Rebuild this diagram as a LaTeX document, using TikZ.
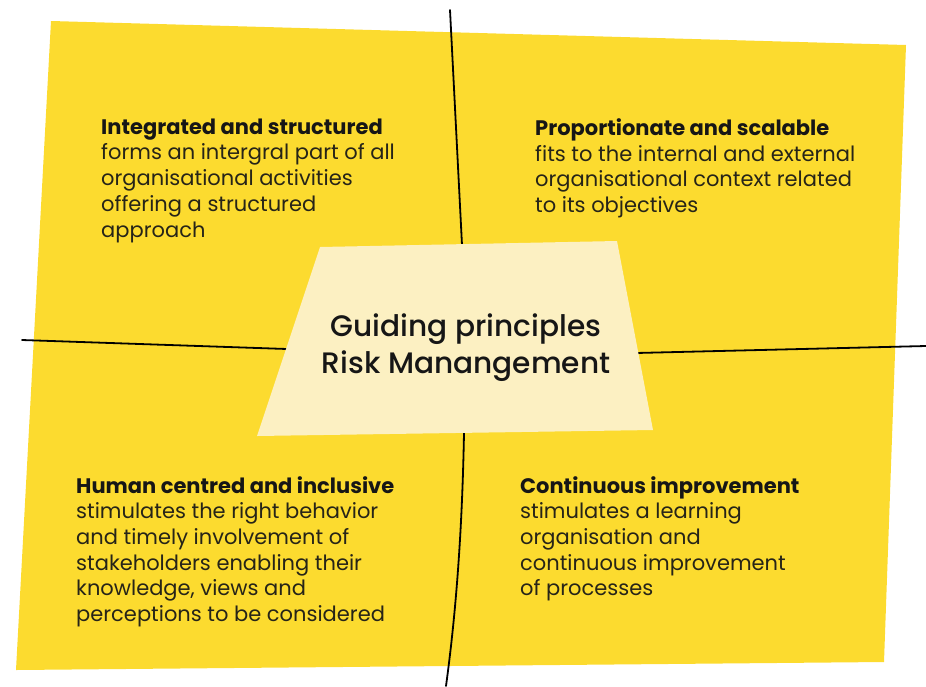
\documentclass[tikz,border=0pt]{standalone}
\usepackage{fontspec}
\setmainfont{Poppins}
\newfontfamily\medfont{Poppins Medium}
\definecolor{bgyellow}{HTML}{FCDB2F}
\definecolor{centerfill}{HTML}{FCF0C2}
\definecolor{txtdark}{HTML}{161616}
\definecolor{txtbody}{HTML}{262418}
\tikzset{
  quadtext/.style={anchor=north west,inner sep=0pt,align=left,font=\fontsize{21}{25.7}\selectfont,text=txtbody},
  centertext/.style={inner sep=0pt,align=center,font=\medfont\fontsize{29.6}{37.5}\selectfont,text=txtdark},
  divider/.style={line width=1.8pt,draw=black,line cap=round}
}
\newcommand{\ttl}[1]{{\bfseries\color{txtdark}#1}}
\begin{document}
\begin{tikzpicture}[x=1pt,y=-1pt]
\useasboundingbox (0,0) rectangle (926,686);
% yellow background
\fill[bgyellow] (51,21) -- (906,45) -- (884,662) -- (16,670) -- cycle;
% dividers
\draw[divider] (450,10) -- (462,245);
\draw[divider] (464,433) .. controls (462,540) and (455,620) .. (446,686);
\draw[divider] (22,340) -- (287,349);
\draw[divider] (636,353) -- (926,346);
% center trapezoid
\fill[centerfill] (320,247) -- (617,241) -- (653,430) -- (257,436) -- cycle;
\node[centertext] (center) at (466,347.5) {Guiding principles\\Risk Manangement};
% quadrant texts
\node[quadtext] (tl) at (101,118.5) {\ttl{Integrated and structured}\\forms an intergral part of all\\organisational activities\\offering a structured\\approach};
\node[quadtext] (tr) at (535,118.5) {\ttl{Proportionate and scalable}\\fits to the internal and external\\organisational context related\\to its objectives};
\node[quadtext] (bl) at (76,476) {\ttl{Human centred and inclusive}\\stimulates the right behavior\\and timely involvement of\\stakeholders enabling their\\knowledge, views and\\perceptions to be considered};
\node[quadtext] (br) at (520,476) {\ttl{Continuous improvement}\\stimulates a learning\\organisation and\\continuous improvement\\of processes};
\end{tikzpicture}
\end{document}
